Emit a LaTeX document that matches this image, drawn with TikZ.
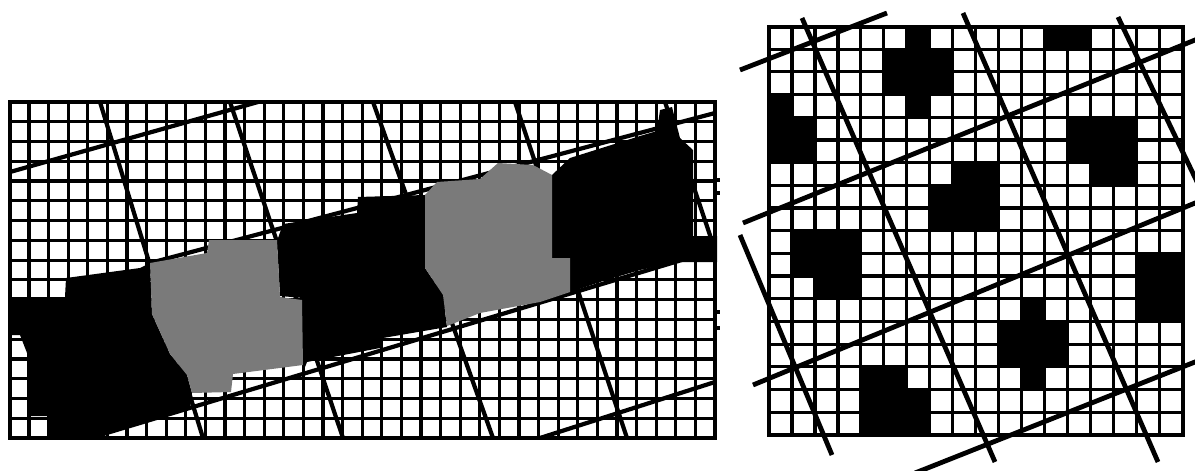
\documentclass[tikz,border=0pt]{standalone}
\begin{document}
\begin{tikzpicture}[x=1pt,y=-1pt,
  gridln/.style={line width=3.2pt},
  frameln/.style={line width=4pt},
  cutln/.style={line width=4.2pt},
  cutlnR/.style={line width=4.8pt},
  blk/.style={fill=black},
  halftone/.style={fill=black!52}]
\useasboundingbox (0,0) rectangle (1195,471);
\clip (0,0) rectangle (1195,471);
\fill[white] (0,0) rectangle (1195,471);

% ---------------- left panel ----------------
\foreach \i in {0,...,36} \draw[gridln] ({9.5+\i*19.597},102) -- ++(0,336);
\foreach \j in {0,...,17} \draw[gridln] (9.5,{102+\j*19.765}) -- ++(705.5,0);
\begin{scope}
  \clip (9.5,102) rectangle (715,438);
  % rising cut lines
  \draw[cutln] (10,172) -- (258,102);
  \draw[cutln] (150,263) -- (715,113);
  \draw[cutln] (90,438) -- (715,250);
  \draw[cutln] (540,438) -- (715,382);
  % falling cut lines
  \draw[cutln] (100,102) -- (203,438);
  \draw[cutln] (230,102) -- (343,438);
  \draw[cutln] (373,102) -- (493,438);
  \draw[cutln] (515,102) -- (627,438);
  \draw[cutln] (665,102) -- (715,250);
\end{scope}
% black tiles
\fill[blk] (9.5,297) -- (65,297) -- (66,278) -- (140,268) -- (150,263)
  -- (152,314) -- (170,354) -- (187,375) -- (192,393) -- (190,409)
  -- (175,413) -- (90,438) -- (48,438) -- (48,416) -- (29,416)
  -- (29,358) -- (20,335) -- (9.5,335) -- cycle;
\fill[blk] (277,241) -- (283,224) -- (357,213) -- (358,197) -- (425,195)
  -- (425,268) -- (443,295) -- (447,327) -- (383,338) -- (380,348)
  -- (307,362) -- (303,372) -- (303,298) -- (280,296) -- cycle;
\fill[blk] (552,175) -- (570,158) -- (640,136) -- (657,131) -- (660,110)
  -- (672,107) -- (680,138) -- (693,150) -- (693,236) -- (717,236)
  -- (717,262) -- (677,262) -- (640,270) -- (603,281) -- (570,292)
  -- (552,258) -- cycle;
% halftone tiles
\fill[halftone] (150,263) -- (207,253) -- (209,240) -- (277,240) -- (280,297)
  -- (302,300) -- (303,365) -- (233,374) -- (231,392) -- (192,393)
  -- (187,375) -- (170,354) -- (152,314) -- cycle;
\fill[halftone] (425,195) -- (437,182) -- (480,179) -- (498,163) -- (533,165)
  -- (552,175) -- (552,258) -- (570,258) -- (570,292) -- (540,302)
  -- (480,313) -- (447,326) -- (443,295) -- (425,268) -- cycle;
\draw[frameln] (9.5,102) rectangle (715,438);
% small stubs at right edge
\foreach \y in {180,193,312,328} \draw[gridln] (713,\y) -- (720,\y);

% ---------------- right panel ----------------
\foreach \r/\c in {0/6,0/12,0/13,
  1/5,1/6,1/7, 2/5,2/6,2/7, 3/0,3/6,
  4/0,4/1,4/13,4/14,4/15, 5/0,5/1,5/13,5/14,5/15,
  6/8,6/9,6/14,6/15, 7/7,7/8,7/9, 8/7,8/8,8/9,
  9/1,9/2,9/3, 10/1,10/2,10/3,10/16,10/17, 11/2,11/3,11/16,11/17,
  12/11,12/16,12/17, 13/10,13/11,13/12, 14/10,14/11,14/12,
  15/4,15/5,15/11, 16/4,16/5,16/6, 17/4,17/5,17/6}
  \fill[blk] ({769+\c*22.97},{26.5+\r*22.69}) rectangle ++(22.97,22.69);
\foreach \i in {0,...,18} \draw[gridln] ({769+\i*22.97},26.5) -- ++(0,408.5);
\foreach \j in {0,...,18} \draw[gridln] (769,{26.5+\j*22.69}) -- ++(413.5,0);
\draw[frameln] (769,26.5) rectangle (1182.5,435);
% cut lines
\draw[cutlnR] (740,70) -- (887,13);
\draw[cutlnR] (743,223) -- (1200,38);
\draw[cutlnR] (753,385) -- (1200,201);
\draw[cutlnR] (915,473) -- (1200,360);
\draw[cutlnR] (802,18) -- (995,462);
\draw[cutlnR] (963,13) -- (1158,462);
\draw[cutlnR] (1118,17) -- (1200,188);
\draw[cutlnR] (740,235) -- (832,455);
\end{tikzpicture}
\end{document}
